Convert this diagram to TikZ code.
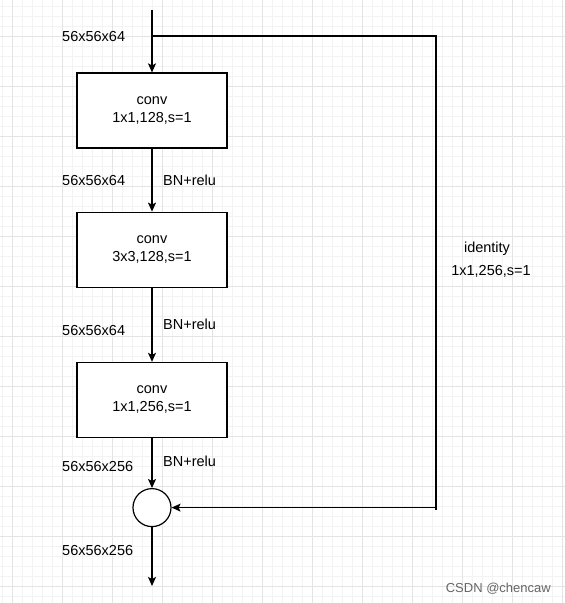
\documentclass[tikz,border=0pt]{standalone}
\usepackage{fontspec}
\setmainfont{Liberation Sans}
\usepackage{tikz}
\usetikzlibrary{arrows.meta,positioning,calc}
\definecolor{gridmaj}{HTML}{E4E4E4}
\definecolor{gridmin}{HTML}{F3F3F3}
\tikzset{
  >={Stealth[length=9pt,width=8pt,inset=2pt]},
  conv/.style={draw, line width=1.2pt, fill=white, minimum width=150pt, minimum height=75pt, inner sep=0pt, align=center, font=\fontsize{14.5}{18}\selectfont},
  sumnode/.style={draw, circle, line width=1.2pt, fill=white, minimum size=38pt, inner sep=0pt},
  lbl/.style={font=\fontsize{14.5}{18}\selectfont, inner sep=0pt},
  wire/.style={line width=1.2pt},
}

\begin{document}
\begin{tikzpicture}[x=1pt, y=-1pt, node distance=63pt]
  \useasboundingbox[fill=white] (0,0) rectangle (565,603);
  % background grid
  \foreach \x in {2,12,...,562} \draw[gridmin, line width=0.8pt] (\x,0) -- (\x,603);
  \foreach \y in {6,16,...,596} \draw[gridmin, line width=0.8pt] (0,\y) -- (565,\y);
  \foreach \x in {12,62,...,562} \draw[gridmaj, line width=1pt] (\x,0) -- (\x,603);
  \foreach \y in {36,86,...,586} \draw[gridmaj, line width=1pt] (0,\y) -- (565,\y);

  \node[conv] (b1) at (152,110.5) {conv\\1x1,128,s=1};
  \node[conv, below=63pt of b1] (b2) {conv\\3x3,128,s=1};
  \node[conv, below=74pt of b2] (b3) {conv\\1x1,256,s=1};
  \node[sumnode, below=50pt of b3] (sum) {};

  \coordinate (top) at (152,10);
  \coordinate (split) at (152,36);
  \coordinate (c1) at (436,36);
  \coordinate (c2) at (436,510);
  \coordinate (out) at (152,586);

  \draw[wire, ->] (top) -- (b1);
  \draw[wire, ->] (b1) -- (b2);
  \draw[wire, ->] (b2) -- (b3);
  \draw[wire, ->] (b3) -- (sum);
  \draw[wire, ->] (sum) -- (out);
  \draw[wire] (split) -- (c1) -- (c2);
  \draw[wire, ->] (c2 |- sum) -- (sum);

  \node[lbl, anchor=west] (d0) at (62,37) {56x56x64};
  \node[lbl, anchor=west] (d1) at (62,181) {56x56x64};
  \node[lbl, anchor=west] (d2) at (62,331) {56x56x64};
  \node[lbl, anchor=west] (d3) at (62,467) {56x56x256};
  \node[lbl, anchor=west] (d4) at (62,551) {56x56x256};

  \node[lbl, anchor=west] (a1) at (163,180) {BN+relu};
  \node[lbl, anchor=west] (a2) at (163,324) {BN+relu};
  \node[lbl, anchor=west] (a3) at (163,461) {BN+relu};

  \node[lbl] (id) at (487,249) {identity};
  \node[lbl] (idk) at (491,271) {1x1,256,s=1};

  \node[lbl, anchor=east, text=black!60, font=\fontsize{13}{15}\selectfont] (wm) at (551,589) {CSDN @chencaw};
\end{tikzpicture}
\end{document}
